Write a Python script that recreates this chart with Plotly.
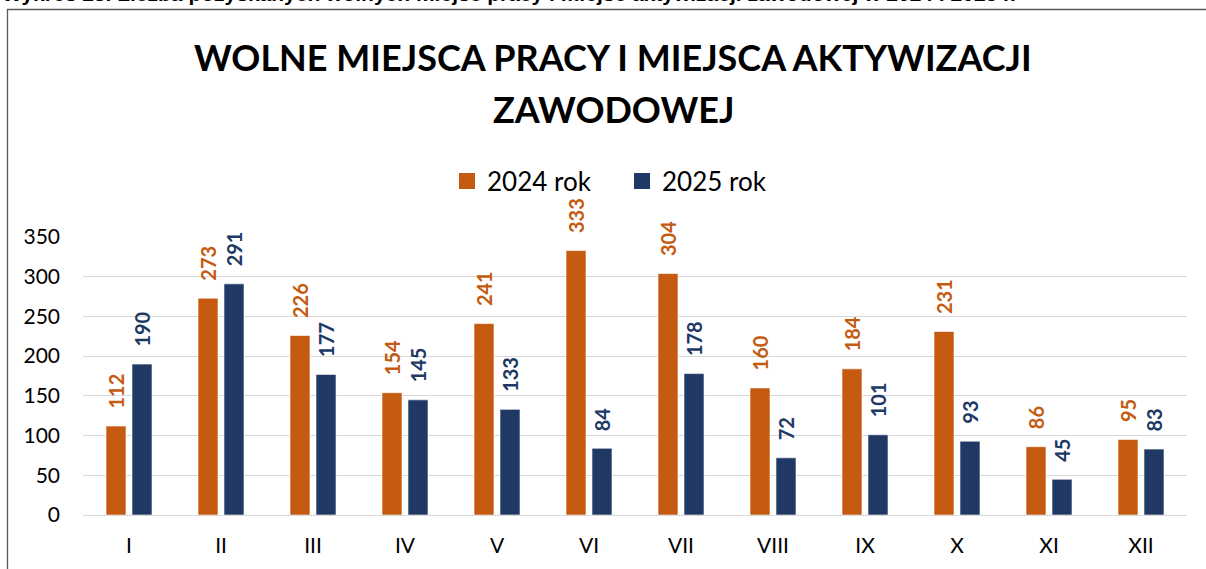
import plotly.graph_objects as go

months = ["I", "II", "III", "IV", "V", "VI", "VII", "VIII", "IX", "X", "XI", "XII"]
y2024 = [112, 273, 226, 154, 241, 333, 304, 160, 184, 231, 86, 95]
y2025 = [190, 291, 177, 145, 133, 84, 178, 72, 101, 93, 45, 83]
series_names = ["2024 rok", "2025 rok"]
colors = ["#C55A11", "#203864"]
y_ticks = [0, 50, 100, 150, 200, 250, 300, 350]

W, H = 1206, 569
ML, MR, MT, MB = 83, 19, 237, 54
FONT = "Lato"

pw = W - ML - MR
ph = H - MT - MB
def px_x(p):
    return (p - ML) / pw
def px_y(p):
    return (H - MB - p) / ph

fig = go.Figure()
for name, vals, col in zip(series_names, [y2024, y2025], colors):
    fig.add_trace(go.Bar(
        x=months, y=vals, name=name, showlegend=False,
        marker=dict(color=col, line=dict(color="rgba(255,255,255,0.6)", width=1)),
    ))
for name, col in zip(series_names, colors):
    fig.add_trace(go.Scatter(
        x=[None], y=[None], name=name, mode="markers",
        marker=dict(symbol="square", size=18, color=col),
    ))

annotations = []
for vals, col, dx in zip([y2024, y2025], colors, [-13, 13]):
    for m, v in zip(months, vals):
        annotations.append(dict(
            x=m, y=v, xref="x", yref="y", text=f"<b>{v}</b>", showarrow=False,
            textangle=-90, xshift=dx, yshift=15, yanchor="bottom", xanchor="center",
            font=dict(family=FONT, size=20, color=col),
        ))

title_lines = ["WOLNE MIEJSCA PRACY I MIEJSCA AKTYWIZACJI", "ZAWODOWEJ"]
for line, cy in zip(title_lines, [57, 109]):
    annotations.append(dict(
        x=px_x(613), xref="paper", y=px_y(cy), yref="paper", xanchor="center", yanchor="middle",
        text=f"<b>{line}</b>", showarrow=False,
        font=dict(family=FONT, size=36, color="#000000"),
    ))

annotations.append(dict(
    x=px_x(0), y=px_y(7), xref="paper", yref="paper", xanchor="left", yanchor="bottom",
    showarrow=False,
    text="<b>Wykres 23. Liczba pozyskanych wolnych miejsc pracy i miejsc aktywizacji zawodowej w 2024 i 2025 r.</b>",
    font=dict(family="Liberation Sans Narrow, Liberation Sans", size=21, color="#000000"),
))

fig.update_layout(
    width=W, height=H,
    margin=dict(l=ML, r=MR, t=MT, b=MB),
    paper_bgcolor="white", plot_bgcolor="white",
    barmode="group", bargap=0.435, bargroupgap=0.23,
    legend=dict(
        orientation="h", x=px_x(622), xanchor="center", y=px_y(181), yanchor="middle",
        font=dict(family=FONT, size=26, color="#000000"),
        itemwidth=30, traceorder="normal",
        entrywidth=130, entrywidthmode="pixels",
    ),
    xaxis=dict(
        showgrid=False, showline=True, linecolor="#d9d9d9", linewidth=1,
        tickfont=dict(family=FONT, size=21, color="#000000"), ticks="",
        ticklabelstandoff=12,
    ),
    yaxis=dict(
        range=[0, 350], tickvals=y_ticks, showgrid=True, gridcolor="#d9d9d9", gridwidth=1,
        zeroline=True, zerolinecolor="#d9d9d9", zerolinewidth=1,
        tickfont=dict(family=FONT, size=21, color="#000000"), ticks="",
        ticklabelstandoff=22,
    ),
    annotations=annotations,
    shapes=[
        dict(type="line", xref="paper", yref="paper", x0=px_x(7), x1=px_x(W + 5), y0=px_y(9.5), y1=px_y(9.5),
             line=dict(color="#595959", width=1.3)),
        dict(type="line", xref="paper", yref="paper", x0=px_x(7.5), x1=px_x(7.5), y0=px_y(9.5), y1=px_y(H + 5),
             line=dict(color="#595959", width=1.3)),
    ],
)

fig.write_html("out.html", config={"displayModeBar": False},
               post_script="document.body.style.margin='0px';")
